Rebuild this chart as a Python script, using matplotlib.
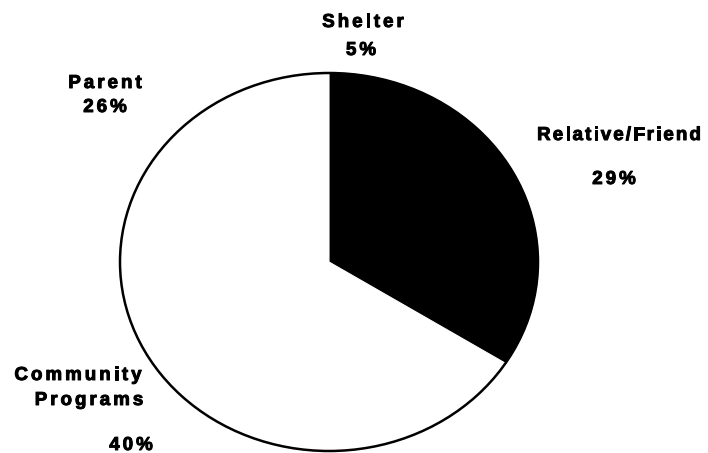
import matplotlib
matplotlib.use("Agg")
import matplotlib.pyplot as plt
import matplotlib.patheffects as pe
from matplotlib.patches import Circle
from matplotlib.font_manager import FontProperties, findfont
from matplotlib.ft2font import FT2Font

# shares, clockwise from 12 o'clock
labels = ["Shelter", "Relative/Friend", "Community", "Parent"]
shares = [5, 29, 40, 26]
fills = ["black", "black", "white", "white"]

W, H, DPI = 708, 453, 100
CX, CY = 329, 262      # pie centre, pixels
RX, RY = 209, 189      # the pie is drawn slightly squashed

FS = 13.5              # label size, points
TRACK = 3.0            # extra letter spacing, pixels

prop = FontProperties(family="Liberation Sans", weight="bold", size=FS)
ft = FT2Font(findfont(prop))
ft.set_size(FS, DPI)
heavy = [pe.withStroke(linewidth=0.7, foreground="black")]


def advance(ch):
    return ft.load_char(ord(ch)).linearHoriAdvance / 65536


def spaced_text(fig, s, cx, baseline, track=TRACK):
    """Draw s centred on cx with widened letter spacing (pixel coords)."""
    widths = [advance(c) for c in s]
    total = sum(widths) + track * (len(s) - 1)
    x = cx - total / 2
    for c, w in zip(s, widths):
        fig.text(x / W, 1 - baseline / H, c, fontproperties=prop,
                 ha="left", va="baseline", color="black",
                 path_effects=heavy)
        x += w + track


fig = plt.figure(figsize=(W / DPI, H / DPI), dpi=DPI)
ax = fig.add_axes([0, 0, 1, 1])

wedges, _ = ax.pie(shares, colors=fills, startangle=90, counterclock=False,
                   radius=1, center=(0, 0), frame=True)
# no seams between neighbouring wedges of the same colour
for w, c in zip(wedges, fills):
    w.set_edgecolor(c)
    w.set_linewidth(0.8)

ax.set_xlim(-CX / RX, (W - CX) / RX)
ax.set_ylim(-(H - CY) / RY, CY / RY)
ax.set_aspect("auto")
ax.axis("off")
ax.add_patch(Circle((0, 0), 1, fill=False, edgecolor="black", linewidth=1.8))

# label centres and baselines, pixels
name_pos = [(363, 27), (619, 140), (78, 380), (105, 88)]
pct_pos = [(361, 55), (614, 184), (131, 450), (105, 112)]
name_track = [TRACK, 2.1, TRACK, TRACK]

for lab, val, (nx, ny), (px, py), tr in zip(labels, shares, name_pos,
                                            pct_pos, name_track):
    spaced_text(fig, lab, nx, ny, tr)
    spaced_text(fig, f"{val}%", px, py)
spaced_text(fig, "Programs", 89, 405)

fig.savefig("out.png", dpi=DPI)
